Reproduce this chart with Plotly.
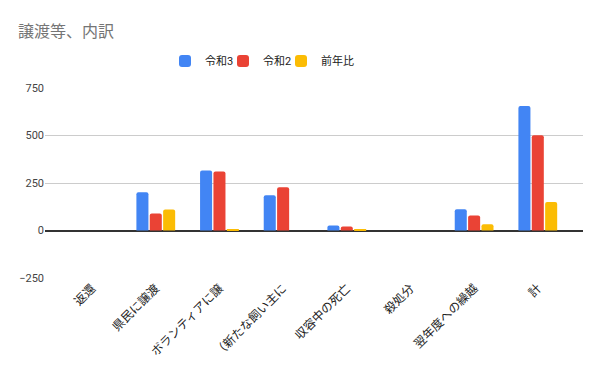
import plotly.graph_objects as go

categories = ["返還", "県民に譲渡", "ボランティアに譲", "（新たな飼い主に", "収容中の死亡", "殺処分", "翌年度への繰越", "計"]
reiwa3 = [0, 201, 316, 185, 26, 0, 112, 655]
reiwa2 = [0, 90, 311, 227, 21, 0, 79, 501]
zennenhi = [0, 111, 5, None, 5, 0, 33, 150]
y_ticks = [-250, 0, 250, 500, 750]

FONT = "Roboto, 'Noto Sans CJK JP', sans-serif"
series = [("令和3", reiwa3, "#4285F4"), ("令和2", reiwa2, "#EA4335"), ("前年比", zennenhi, "#FBBC04")]
legend_ids = ["legend", "legend2", "legend3"]
legend_x = [165, 223, 281]

fig = go.Figure()
for (name, vals, color), lid in zip(series, legend_ids):
    fig.add_trace(go.Bar(x=categories, y=vals, name=name, legend=lid,
                         marker=dict(color=color, line=dict(width=0))))

legend_common = dict(orientation="h", xanchor="left", y=1-61/371, yanchor="middle",
                     xref="container", yref="container", bgcolor="rgba(0,0,0,0)",
                     font=dict(family=FONT, size=11, color="#222222"), itemwidth=30)

layout_legends = {lid: dict(legend_common, x=lx/600) for lid, lx in zip(legend_ids, legend_x)}

fig.update_layout(
    width=600, height=371,
    margin=dict(l=45, r=17, t=88, b=93, autoexpand=False),
    paper_bgcolor="white", plot_bgcolor="white",
    font=dict(family=FONT, size=11, color="#222222"),
    title=dict(text="譲渡等、内訳", x=18/600, xanchor="left", y=1-31/371, yanchor="middle",
               font=dict(family=FONT, size=16, color="#757575")),
    barmode="group", bargap=0.37, bargroupgap=0.1, barcornerradius=2,
    showlegend=True,
    **layout_legends,
)
fig.update_xaxes(range=[-0.74, 7.71], tickangle=-45, showgrid=False, ticks="", automargin=False,
                 tickfont=dict(family=FONT, size=12, color="#222222"))
fig.update_yaxes(range=[-250, 750], tickvals=y_ticks, showgrid=True, gridcolor="#CCCCCC", gridwidth=1,
                 zeroline=True, zerolinecolor="#333333", zerolinewidth=1.5, ticks="", automargin=False,
                 tickfont=dict(family=FONT, size=11, color="#444444"))

fig.write_html("out.html", config={"displayModeBar": False},
               post_script="document.body.style.margin='0';document.body.style.overflow='hidden';")
